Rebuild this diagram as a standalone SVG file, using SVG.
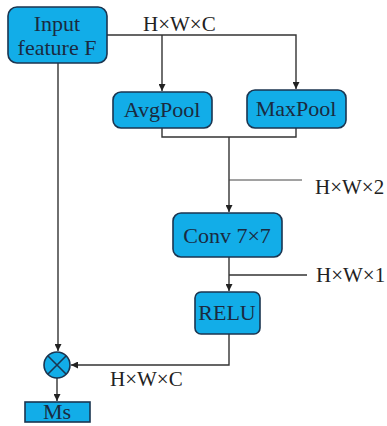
<svg xmlns="http://www.w3.org/2000/svg" width="387" height="426" viewBox="0 0 387 426">
<style>
.box{fill:#12ade8;stroke:#1b3550;stroke-width:1.6}
.t{font-family:"Liberation Serif",serif;font-size:22px;fill:#1a2a40;text-anchor:middle}
.lbl{font-family:"Liberation Serif",serif;font-size:21px;fill:#222}
.ln{fill:none;stroke:#333;stroke-width:1.4}
.thin{fill:none;stroke:#444;stroke-width:1}
</style>
<defs>
<marker id="ah" viewBox="0 0 10 10" refX="10" refY="5" markerWidth="7" markerHeight="7" markerUnits="userSpaceOnUse" orient="auto">
<path d="M0,0 L10,5 L0,10 z" fill="#222"/>
</marker>
</defs>
<rect width="387" height="426" fill="#ffffff"/>
<g id="connectors">
<path class="ln" d="M107,35 H296 V89" marker-end="url(#ah)"/>
<path class="ln" d="M162,35 V91" marker-end="url(#ah)"/>
<path class="ln" d="M162,128 V137 H296 V128"/>
<path class="ln" d="M229,137 V212" marker-end="url(#ah)"/>
<path class="thin" d="M229,180 H302"/>
<path class="ln" d="M229,257 V291" marker-end="url(#ah)"/>
<path class="ln" d="M229,275 H307"/>
<path class="ln" d="M229,334 V365 H71" marker-end="url(#ah)"/>
<path class="ln" d="M58,63 V351" marker-end="url(#ah)"/>
<path class="ln" d="M57,378 V401" marker-end="url(#ah)"/>
</g>
<g id="input">
<rect class="box" x="8" y="7" width="99" height="56" rx="9"/>
<text class="t" x="57" y="31">Input</text>
<text class="t" x="57" y="55">feature F</text>
</g>
<text class="lbl" x="143" y="31">H×W×C</text>
<g id="avgpool">
<rect class="box" x="113" y="92" width="99" height="36" rx="8"/>
<text class="t" x="162" y="117">AvgPool</text>
</g>
<g id="maxpool">
<rect class="box" x="247" y="90" width="99" height="38" rx="8"/>
<text class="t" x="296" y="116">MaxPool</text>
</g>
<text class="lbl" x="315" y="194">H×W×2</text>
<g id="conv">
<rect class="box" x="173" y="213" width="109" height="44" rx="8"/>
<text class="t" x="227" y="243">Conv 7×7</text>
</g>
<text class="lbl" x="316" y="282">H×W×1</text>
<g id="relu">
<rect class="box" x="195" y="292" width="65" height="42" rx="6"/>
<text class="t" x="227" y="320">RELU</text>
</g>
<g id="multiply">
<circle class="box" cx="57" cy="365" r="13"/>
<path d="M48,356 L66,374 M66,356 L48,374" stroke="#1b3550" stroke-width="1.6"/>
</g>
<text class="lbl" x="110" y="386">H×W×C</text>
<g id="ms">
<rect class="box" x="25" y="402" width="65" height="20"/>
<text class="t" x="57" y="419">Ms</text>
</g>
</svg>
